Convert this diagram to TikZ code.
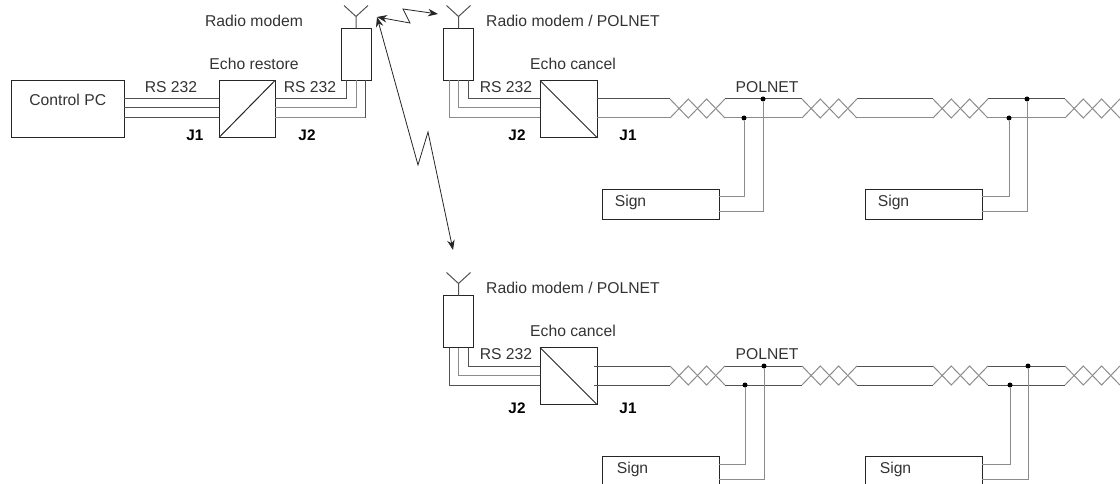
\documentclass[tikz,border=0pt]{standalone}
\usepackage{fontspec}
\setmainfont{Liberation Sans}
\usetikzlibrary{arrows.meta}
\tikzset{
    box/.style={draw=black!85, line width=1pt, inner sep=0, outer sep=0, fill=white},
    txt/.style={inner sep=0, outer sep=0, text=black!80, font=\fontsize{15.7}{18}\selectfont},
    jack/.style={txt, text=black, font=\fontsize{15.3}{18}\selectfont\bfseries},
    wiredark/.style={draw=black!68, line width=1pt},
    wirelight/.style={draw=black!45, line width=1pt},
    joint/.style={circle, fill=black, inner sep=0, minimum size=5pt},
    radiolink/.style={draw=black!85, line width=.8pt, {Stealth[length=10pt,width=7.5pt]}-{Stealth[length=10pt,width=7.5pt]}}
}
\begin{document}
\begin{tikzpicture}[x=1pt, y=-1pt]
\useasboundingbox (0,0) rectangle (1120,484);
\clip (0,0) rectangle (1120,484);

% left station
\coordinate (hi) at (0,99);
\coordinate (mid) at (0,108);
\coordinate (lo) at (0,118);
\node[box, minimum width=112.5pt, minimum height=57pt, label={[txt, yshift=9.5pt]center:Control PC}] (pc) at (67.75,109) {};
\node[box, minimum width=56pt, minimum height=57pt] (er) at (247,109) {};
\node[box, minimum width=30pt, minimum height=52pt] (rm) at (356,54.5) {};
\draw[box] (er.south west) -- (er.north east);
\foreach \w in {hi,mid,lo}
    \draw[wiredark] (pc.east |- \w) -- (er.west |- \w);
\draw[wiredark] (er.east |- hi) -| ([xshift=-9.5pt]rm.south);
\draw[wirelight] (er.east |- mid) -| (rm.south);
\draw[wirelight] (er.east |- lo) -- ([xshift=9.5pt]rm.south |- lo);
\draw[wiredark] ([xshift=9.5pt]rm.south |- lo) -- ([xshift=9.5pt]rm.south);
\node[txt] (rmtext) at (254,21) {Radio modem};
\node[txt] (ertext) at (254,64) {Echo restore};
\node[txt] (rsa) at (171,87) {RS 232};
\node[txt] (rsb) at (310,87) {RS 232};
\node[jack] (ja) at (195,135) {J1};
\node[jack] (jb) at (307,135) {J2};

% both right stations with their cable
\foreach \r/\dy/\sx/\dx/\jy/\lc in {a/0/-30/0/135/wirelight, b/267/-28/1/141/wiredark}{
    \begin{scope}[shift={(0,\dy)}]
        \coordinate (hi\r) at (0,99);
        \coordinate (mid\r) at (0,108);
        \coordinate (lo\r) at (0,118);
        \node[box, minimum width=30pt, minimum height=52pt] (rm\r) at (458.5,54.5) {};
        \node[box, minimum width=57pt, minimum height=57pt] (ec\r) at (568.5,109) {};
        \draw[box] (ec\r.north west) -- (ec\r.south east);
        \draw[wiredark] ([xshift=9.5pt]rm\r.south) |- (ec\r.west |- hi\r);
        \draw[wirelight] (rm\r.south) |- (ec\r.west |- mid\r);
        \draw[\lc] ([xshift=-9.5pt]rm\r.south) |- (ec\r.west |- lo\r);
        \node[txt] (rmtext\r) at (573,21) {Radio modem / POLNET};
        \node[txt] (ectext\r) at (573,64) {Echo cancel};
        \node[txt] (rs\r) at (506,87) {RS 232};
        \node[txt] (pol\r) at (767,87) {POLNET};
        \node[jack] (jb\r) at (517,\jy) {J2};
        \node[jack] (ja\r) at (628,\jy) {J1};
        \foreach \ax/\bx in {597/670, 725/802, 857/933, 988/1065}{
            \draw[wiredark] (\ax,99) -- (\bx,99);
            \draw[\lc] (\ax,118) -- (\bx,118);
        }
        \foreach \tx in {670, 802, 933, 1065}{
            \draw[wirelight] (\tx,99) -- ++(18.3,19) -- ++(18.3,-19) -- ++(18.3,19);
            \draw[wirelight] (\tx,118) -- ++(18.3,-19) -- ++(18.3,19) -- ++(18.3,-19);
        }
        \foreach \n/\cx/\da/\db in {c/660.5/744/763, d/923.5/1009/1027}{
            \node[box, minimum width=117pt, minimum height=30pt, label={[txt, xshift=\sx pt, yshift=2.5pt]center:Sign}] (sign\r\n) at (\cx,204.5) {};
            \node[joint] (dota\r\n) at (\da+\dx,118) {};
            \node[joint] (dotb\r\n) at (\db+\dx,99) {};
            \draw[wirelight] ([yshift=7.5pt]sign\r\n.east) -| (dota\r\n);
            \draw[wirelight] ([yshift=-7.5pt]sign\r\n.east) -| (dotb\r\n);
        }
    \end{scope}
}
\draw[wiredark] (594,366) -- (597,366);
\draw[wiredark] (594,385) -- (597,385);

% antennas
\foreach \m in {rm,rma,rmb}
    \draw[wiredark] (\m.north) -- ++(0,-12) coordinate (tip\m) -- ++(-12,-11) (tip\m) -- ++(12,-11);

% radio links
\coordinate (linkfrom) at (377,17);
\coordinate (linkup) at (438,14);
\coordinate (linkdown) at (453,250);
\draw[radiolink] (linkfrom) -- (410,23) -- (403,9) -- (linkup);
\draw[radiolink] (linkfrom) -- (418,165) -- (428,132) -- (linkdown);

\end{tikzpicture}
\end{document}
